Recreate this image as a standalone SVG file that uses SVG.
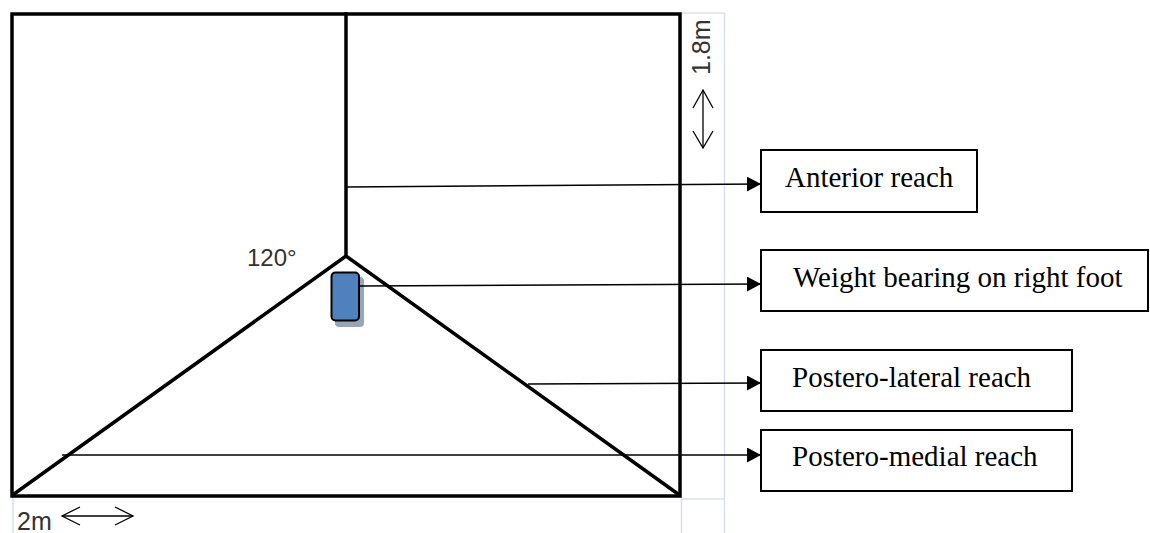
<svg xmlns="http://www.w3.org/2000/svg" width="1150" height="533" viewBox="0 0 1150 533">
<style>
.grid{stroke:#d9dfeb;stroke-width:1.5;fill:none}
.heavy{stroke:#000;stroke-width:3.5;fill:none;stroke-linecap:square}
.box{fill:#fff;stroke:#000;stroke-width:2}
.lbl{font-family:"Liberation Serif","Times New Roman",serif;font-size:29px;fill:#000}
.dim{font-family:"Liberation Sans",Arial,sans-serif;font-size:24px;fill:#333}
.conn{stroke:#000;stroke-width:1.5;fill:none}
.dbl{stroke:#000;stroke-width:1.3;fill:none}
</style>
<defs>
<marker id="ah" markerWidth="14" markerHeight="15" refX="14" refY="7.5" orient="auto" markerUnits="userSpaceOnUse">
<path d="M0,0 L14,7.5 L0,15 Z" fill="#000"/>
</marker>
</defs>
<rect width="1150" height="533" fill="#fff"/>
<g id="grid">
<line class="grid" x1="724.5" y1="13" x2="724.5" y2="533"/>
<line class="grid" x1="681" y1="13" x2="724.5" y2="13"/>
<line class="grid" x1="681" y1="499" x2="724.5" y2="499"/>
<line class="grid" x1="681.5" y1="497" x2="681.5" y2="533"/>
<line class="grid" x1="13" y1="497" x2="13" y2="533"/>
</g>
<g id="field">
<rect class="heavy" x="12" y="14" width="668" height="482"/>
<line class="heavy" x1="346" y1="14" x2="346" y2="256"/>
<polyline class="heavy" points="14,494 346,256 678,494" stroke-linejoin="miter"/>
</g>
<g id="foot">
<rect x="335" y="277" width="29" height="50" rx="4" fill="#98a4b8"/>
<rect x="331.5" y="272.5" width="27.5" height="48" rx="4" fill="#4f81bd" stroke="#000" stroke-width="2"/>
</g>
<g id="connectors">
<line class="conn" x1="347" y1="187" x2="761" y2="184" marker-end="url(#ah)"/>
<line class="conn" x1="359" y1="286" x2="761" y2="284" marker-end="url(#ah)"/>
<line class="conn" x1="528" y1="384" x2="761" y2="383" marker-end="url(#ah)"/>
<line class="conn" x1="62" y1="455" x2="761" y2="455" marker-end="url(#ah)"/>
</g>
<g id="anterior">
<rect class="box" x="761" y="150" width="216" height="62"/>
<text class="lbl" x="785" y="187">Anterior reach</text>
</g>
<g id="weight">
<rect class="box" x="761" y="250" width="387" height="61"/>
<text class="lbl" x="793" y="287">Weight bearing on right foot</text>
</g>
<g id="posterolateral">
<rect class="box" x="761" y="350" width="311" height="61"/>
<text class="lbl" x="792" y="387">Postero-lateral reach</text>
</g>
<g id="posteromedial">
<rect class="box" x="761" y="430" width="311" height="61"/>
<text class="lbl" x="792" y="466">Postero-medial reach</text>
</g>
<g id="dim-18">
<text class="dim" style="font-size:25px" transform="translate(710,75) rotate(-90)">1.8m</text>
<line class="dbl" x1="703" y1="90" x2="703" y2="148"/>
<polyline class="dbl" points="693,108 703,90 713,108"/>
<polyline class="dbl" points="693,131 703,148 713,131"/>
</g>
<g id="dim-2">
<text class="dim" style="font-size:25px" x="17" y="530">2m</text>
<line class="dbl" x1="62" y1="516" x2="133" y2="516"/>
<polyline class="dbl" points="80,507 62,516 80,525"/>
<polyline class="dbl" points="115,507 133,516 115,525"/>
</g>
<g id="angle">
<text class="dim" x="247" y="266">120°</text>
</g>
</svg>
